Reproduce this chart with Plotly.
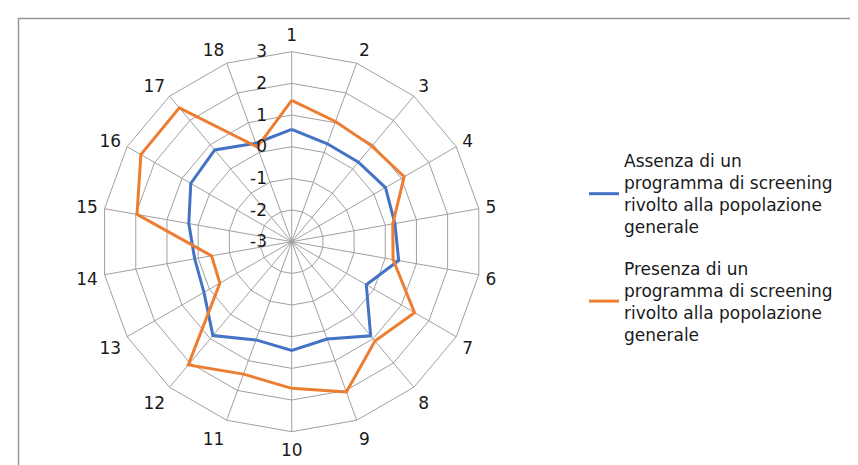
import plotly.graph_objects as go

categories = [str(i) for i in range(1, 19)]
assenza = [0.55, 0.29, 0.28, 0.42, 0.31, 0.43, -0.28, 0.88, 0.27, 0.43, 0.30, 0.87, 0.20, 0.11, 0.30, 0.68, 0.78, 0.31]
presenza = [1.46, 1.04, 0.94, 1.10, 0.24, 0.25, 1.48, 1.09, 2.05, 1.63, 1.45, 2.08, -0.38, -0.43, 1.96, 2.50, 2.52, 0.18]
radial_ticks = [-3, -2, -1, 0, 1, 2, 3]
radial_ticktext = ["-3", "-2", "-1", "0", "1", "2", "3"]
name_a = "Assenza di un<br>programma di screening<br>rivolto alla popolazione<br>generale"
name_p = "Presenza di un<br>programma di screening<br>rivolto alla popolazione<br>generale"

fig = go.Figure()
fig.add_trace(go.Scatterpolar(r=assenza + assenza[:1], theta=categories + categories[:1],
                              mode="lines", name=name_a, legendgroup="a",
                              line=dict(color="#4472C4", width=3)))
fig.add_trace(go.Scatterpolar(r=presenza + presenza[:1], theta=categories + categories[:1],
                              mode="lines", name=name_p, legendgroup="b",
                              line=dict(color="#ED7D31", width=3)))

W, H = 858, 465
cx, cy, R = 283.7, 233.7, 190
pad = "\u00a0" * 4
fig.update_layout(
    width=W, height=H,
    margin=dict(l=0, r=0, t=0, b=0),
    paper_bgcolor="white",
    font=dict(family="DejaVu Sans, Verdana, sans-serif", size=17, color="#1a1a1a"),
    polar=dict(
        domain=dict(x=[(cx - R) / W, (cx + R) / W], y=[(H - cy - R) / H, (H - cy + R) / H]),
        bgcolor="white",
        gridshape="linear",
        angularaxis=dict(direction="clockwise", rotation=90, type="category",
                         categoryarray=categories,
                         showline=True, linecolor="#a0a0a0", linewidth=1,
                         gridcolor="#a0a0a0", gridwidth=1,
                         ticks="outside", ticklen=3, tickcolor="rgba(255,255,255,0)",
                         tickfont=dict(size=17, color="#1a1a1a")),
        radialaxis=dict(range=[-3, 3], tickvals=radial_ticks,
                        ticktext=[t + pad for t in radial_ticktext],
                        angle=90, tickangle=90,
                        side="counterclockwise", showline=False, ticks="",
                        gridcolor="#a0a0a0", gridwidth=1,
                        tickfont=dict(size=17, color="#1a1a1a")),
    ),
    legend=dict(x=576 / W, y=1 - 135 / H, xanchor="left", yanchor="top",
                font=dict(size=17, color="#1a1a1a"), tracegroupgap=16,
                itemwidth=30, bgcolor="rgba(0,0,0,0)"),
    shapes=[dict(type="rect", xref="paper", yref="paper",
                 x0=10.5 / W, x1=1.05, y0=-0.05, y1=1 - 10.5 / H,
                 line=dict(color="#969696", width=1.5))],
)

fig.write_html("out.html")
